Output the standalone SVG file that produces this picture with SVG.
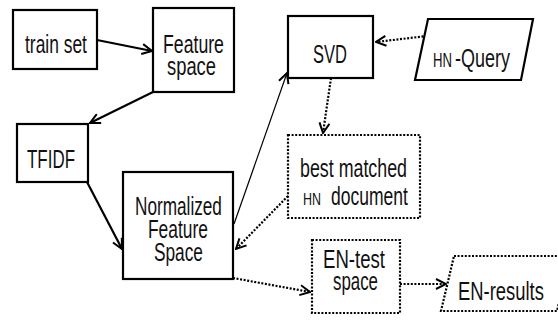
<svg xmlns="http://www.w3.org/2000/svg" width="558" height="325" viewBox="0 0 558 325">
  <style>
    .box { fill: #ffffff; stroke: #000000; stroke-width: 2.2; }
    .dot { fill: #ffffff; stroke: #000000; stroke-width: 2.2; stroke-dasharray: 2 1.6; }
    .lbl { font-family: "Liberation Sans", Arial, sans-serif; font-size: 25px; fill: #111111; }
    .sm { font-size: 17px; }
    .md { font-size: 21px; }
    .edge { fill: none; stroke: #000000; stroke-width: 2.2; }
    .thin { fill: none; stroke: #000000; stroke-width: 1.2; }
    .dash { fill: none; stroke: #000000; stroke-width: 2.2; stroke-dasharray: 2 1.6; }
  </style>
  <defs>
    <marker id="arrow" viewBox="0 0 12 12" refX="11" refY="6" markerWidth="12" markerHeight="12" markerUnits="userSpaceOnUse" orient="auto">
      <path d="M1,1 L11,6 L1,11" fill="none" stroke="#000000" stroke-width="2"/>
    </marker>
  </defs>
  <rect width="558" height="325" fill="#ffffff"/>

  <g id="connectors">
    <line class="edge" x1="97" y1="40" x2="152" y2="51" marker-end="url(#arrow)"/>
    <line class="edge" x1="153" y1="92" x2="90" y2="123" marker-end="url(#arrow)"/>
    <line class="edge" x1="87" y1="182" x2="122" y2="249" marker-end="url(#arrow)"/>
    <line class="thin" x1="234" y1="224" x2="287" y2="73" marker-end="url(#arrow)"/>
    <line class="dash" x1="427" y1="36" x2="376" y2="42" marker-end="url(#arrow)"/>
    <line class="dash" x1="331" y1="78" x2="323" y2="133" marker-end="url(#arrow)"/>
    <line class="dash" x1="288" y1="196" x2="236" y2="249" marker-end="url(#arrow)"/>
    <line class="dash" x1="233" y1="278" x2="310" y2="292" marker-end="url(#arrow)"/>
    <line class="dash" x1="400" y1="284" x2="446" y2="284" marker-end="url(#arrow)"/>
  </g>

  <!-- labels are narrowed horizontally with a per-label scale -->
  <g id="train-set">
    <rect class="box" x="13" y="10" width="84" height="59"/>
    <text class="lbl" transform="translate(25,53) scale(0.697,1)">train set</text>
  </g>

  <g id="feature-space">
    <rect class="box" x="153" y="8" width="81" height="84"/>
    <text class="lbl" transform="translate(163,53) scale(0.708,1)">Feature</text>
    <text class="lbl" transform="translate(167,75) scale(0.735,1)">space</text>
  </g>

  <g id="tfidf">
    <rect class="box" x="17" y="124" width="71" height="58"/>
    <text class="lbl" transform="translate(27,168) scale(0.678,1)">TFIDF</text>
  </g>

  <g id="normalized-feature-space">
    <rect class="box" x="123" y="172" width="110" height="107"/>
    <text class="lbl" transform="translate(135,215) scale(0.688,1)">Normalized</text>
    <text class="lbl" transform="translate(148,238) scale(0.696,1)">Feature</text>
    <text class="lbl" transform="translate(154,261) scale(0.691,1)">Space</text>
  </g>

  <g id="svd">
    <rect class="box" x="288" y="16" width="85" height="62"/>
    <text class="lbl" transform="translate(313,63) scale(0.661,1)">SVD</text>
  </g>

  <g id="hn-query">
    <polygon class="box" points="428,19 533,19 521,80 415,80"/>
    <text class="lbl md" transform="translate(433,67) scale(0.627,1)">HN</text>
    <text class="lbl" transform="translate(455,67) scale(0.72,1)">-Query</text>
  </g>

  <g id="best-matched">
    <rect class="dot" x="288" y="135" width="132" height="83"/>
    <text class="lbl" transform="translate(300,177) scale(0.713,1)">best matched</text>
    <text class="lbl sm" transform="translate(303,205) scale(0.734,1)">HN</text>
    <text class="lbl" transform="translate(331,205) scale(0.701,1)">document</text>
  </g>

  <g id="en-test-space">
    <rect class="dot" x="312" y="240" width="88" height="73"/>
    <text class="lbl" transform="translate(323,268) scale(0.744,1)">EN-test</text>
    <text class="lbl" transform="translate(333,290) scale(0.675,1)">space</text>
  </g>

  <g id="en-results">
    <polygon class="dot" points="454,256 570,256 557,311 441,311"/>
    <text class="lbl" transform="translate(458,300) scale(0.737,1)">EN-results</text>
  </g>
</svg>
